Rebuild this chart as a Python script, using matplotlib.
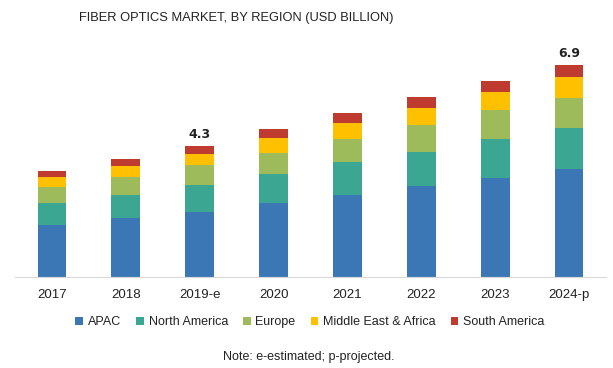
import matplotlib
matplotlib.use("Agg")
import matplotlib.pyplot as plt
import numpy as np

years = ["2017", "2018", "2019-e", "2020", "2021", "2022", "2023", "2024-p"]
regions = ["APAC", "North America", "Europe", "Middle East & Africa", "South America"]
apac = [1.69, 1.91, 2.12, 2.41, 2.67, 2.96, 3.23, 3.52]
north_america = [0.71, 0.75, 0.87, 0.95, 1.08, 1.12, 1.25, 1.32]
europe = [0.52, 0.60, 0.66, 0.68, 0.75, 0.88, 0.95, 1.00]
mea = [0.33, 0.34, 0.35, 0.48, 0.51, 0.54, 0.60, 0.67]
south_america = [0.21, 0.24, 0.27, 0.29, 0.33, 0.36, 0.36, 0.39]
labels = {2: "4.3", 7: "6.9"}
colors = ["#3C77B5", "#3BA792", "#9DBB5A", "#FFC000", "#BF3B30"]

W, H = 613, 368
fig = plt.figure(figsize=(W / 100, H / 100), dpi=100)
base_y = 276.7
top_y = 40
ax = fig.add_axes([15 / W, (H - base_y) / H, (606 - 15) / W, (base_y - top_y) / H])

x = np.arange(len(years))
bottom = np.zeros(len(years))
series = [apac, north_america, europe, mea, south_america]
for name, vals, c in zip(regions, series, colors):
    ax.bar(x, vals, width=0.39, bottom=bottom, color=c, label=name)
    bottom += np.array(vals)

for i, t in labels.items():
    ax.text(x[i], bottom[i] + 0.15, t, ha="center", va="bottom",
            fontsize=9, fontweight="bold", color="#222222")

ax.set_xlim(-0.5, len(years) - 0.5)
ax.set_ylim(0, (base_y - top_y) / 30.68)
ax.set_yticks([])
for s in ["top", "right", "left"]:
    ax.spines[s].set_visible(False)
ax.spines["bottom"].set_color("#D9D9D9")
ax.set_xticks(x)
ax.set_xticklabels(years, fontsize=9.5, color="#222222", family="Liberation Sans")
ax.tick_params(axis="x", length=0, pad=9)

fig.text(236 / W, 1 - 18 / H, "FIBER OPTICS MARKET, BY REGION (USD BILLION)",
         ha="center", va="center", fontsize=9.3, color="#222222",
         family="Liberation Sans")

leg = fig.legend(loc="center", bbox_to_anchor=(310 / W, 1 - 322 / H), ncol=5,
                 frameon=False, handlelength=0.6, handleheight=0.6,
                 handletextpad=0.4, columnspacing=1.2,
                 prop={"family": "Liberation Sans", "size": 9})
for t in leg.get_texts():
    t.set_color("#222222")

fig.text(309 / W, 1 - 357 / H, "Note: e-estimated; p-projected.", ha="center",
         va="center", fontsize=9, color="#222222", family="Liberation Sans")

fig.savefig("out.png", dpi=100)
